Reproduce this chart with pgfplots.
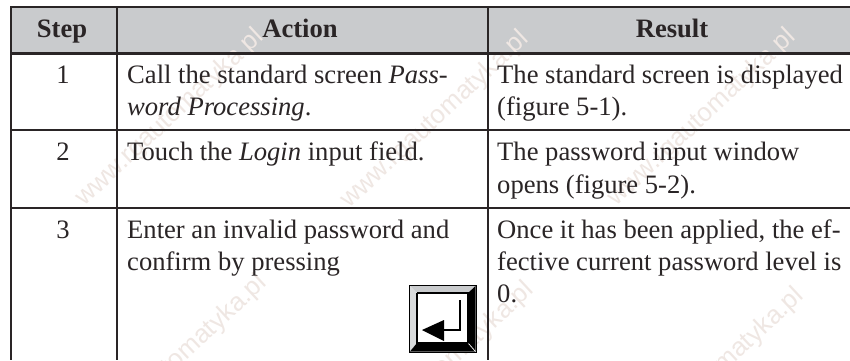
\documentclass[border=0pt]{standalone}
\usepackage{pgfplots}
\pgfplotsset{compat=1.18}
\usepackage{fontspec}
\setmainfont{Liberation Serif}
\newfontfamily\wmfont{Liberation Sans}
\definecolor{hdr}{HTML}{C9CBCD}
\definecolor{ink}{HTML}{2A2526}
\definecolor{wm}{HTML}{EFE7E3}
\begin{document}
\begin{tikzpicture}
\begin{axis}[
  at={(0,0)}, anchor=south west,
  width=850bp, height=360bp, scale only axis,
  xmin=0, xmax=850, ymin=0, ymax=360, y dir=reverse,
  hide axis, clip=true,
]
\tikzset{w/.style={rotate=43,text=wm,font=\wmfont\fontsize{26}{26}\selectfont,inner sep=0pt},
 t/.style={anchor=base west,font=\fontsize{26.7}{26.7}\selectfont,text=ink,inner sep=0pt},
 h/.style={anchor=base,font=\fontsize{26.7}{26.7}\selectfont\bfseries,text=ink,inner sep=0pt},
 c/.style={anchor=base,font=\fontsize{26.7}{26.7}\selectfont,text=ink,inner sep=0pt}}
% page
\addplot[draw=none, fill=white] coordinates {(0,0)(850,0)(850,360)(0,360)} -- cycle;
% header band
\addplot[draw=none, fill=hdr] coordinates {(11,7)(850,7)(850,53)(11,53)} -- cycle;
% watermark
\node[w] at (axis cs:-93,110) {www.rgautomatyka.pl};
\node[w] at (axis cs:170,118) {www.rgautomatyka.pl};
\node[w] at (axis cs:435,120) {www.rgautomatyka.pl};
\node[w] at (axis cs:702,118) {www.rgautomatyka.pl};
\node[w] at (axis cs:-95,378) {www.rgautomatyka.pl};
\node[w] at (axis cs:173,364) {www.rgautomatyka.pl};
\node[w] at (axis cs:440,371) {www.rgautomatyka.pl};
\node[w] at (axis cs:710,377) {www.rgautomatyka.pl};
% rules
\addplot[ink, line width=1.8bp] coordinates {(10,7.2)(850,7.2)};
\addplot[ink, line width=3bp] coordinates {(10,53.7)(850,53.7)};
\addplot[ink, line width=1.8bp] coordinates {(10,130)(850,130)};
\addplot[ink, line width=1.8bp] coordinates {(10,207.7)(850,207.7)};
\addplot[ink, line width=1.8bp] coordinates {(11,6.3)(11,360)};
\addplot[ink, line width=1.8bp] coordinates {(117,6.3)(117,360)};
\addplot[ink, line width=1.8bp] coordinates {(488,6.3)(488,360)};
% key
\addplot[draw=black, line width=0.6bp, fill=white] coordinates {(409.5,285.5)(476,285.5)(476,352)(409.5,352)} -- cycle;
\addplot[draw=none, fill=hdr] coordinates {(410,286)(475.5,286)(468,293)(417,293)} -- cycle;
\addplot[draw=none, fill=hdr!70!white] coordinates {(410,286)(417,293)(417,343)(410,351.5)} -- cycle;
\addplot[draw=none, fill=black] coordinates {(475.5,286)(475.5,351.5)(468,343)(468,293)} -- cycle;
\addplot[draw=none, fill=black] coordinates {(410,351.5)(475.5,351.5)(468,343)(417,343)} -- cycle;
\addplot[black, line width=1.1bp] coordinates {(417,293)(468,293)(468,343)(417,343)(417,293)};
\addplot[white, line width=0.7bp] coordinates {(468.5,343.5)(475.5,351.5)};
\addplot[black, line width=1.4bp] coordinates {(460,300)(460,330)(440,330)};
\addplot[draw=none, fill=black] coordinates {(422,330)(444,320)(444,341)} -- cycle;
% text
\node[h] at (axis cs:62,37) {Step};
\node[h] at (axis cs:300,37) {Action};
\node[h] at (axis cs:672,37) {Result};
\node[c] at (axis cs:63,83) {1};
\node[c] at (axis cs:63,160.5) {2};
\node[c] at (axis cs:63,238) {3};
\node[t] at (axis cs:127,83) {Call the standard screen \textit{Pass-}};
\node[t] at (axis cs:127,115) {\textit{word Processing}.};
\node[t] at (axis cs:127,160.5) {Touch the \textit{Login} input field.};
\node[t] at (axis cs:127,238) {Enter an invalid password and};
\node[t] at (axis cs:127,270) {confirm by pressing};
\node[t] at (axis cs:497,83) {The standard screen is displayed};
\node[t] at (axis cs:497,115) {(figure 5-1).};
\node[t] at (axis cs:497,160.5) {The password input window};
\node[t] at (axis cs:497,193) {opens (figure 5-2).};
\node[t] at (axis cs:497,238) {Once it has been applied, the ef-};
\node[t] at (axis cs:497,270) {fective current password level is};
\node[t] at (axis cs:497,302) {0.};
\end{axis}
\end{tikzpicture}
\end{document}
